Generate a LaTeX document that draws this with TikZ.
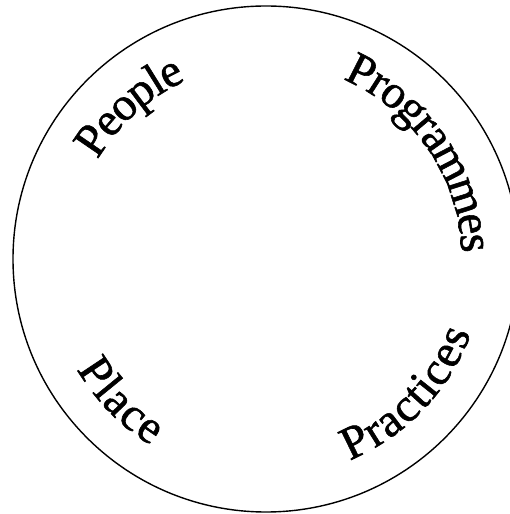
\documentclass[tikz,border=0pt]{standalone}
\usepackage{fontspec}
\setmainfont{Liberation Serif}
\newfontfamily\labfam[FakeBold=1.2]{Liberation Serif}
\usetikzlibrary{decorations.text}
\newcommand\lblfont{\labfam\fontsize{47}{54}\selectfont}
\tikzset{
  ring/.style={draw, circle, line width=1.4pt, minimum size=506pt, inner sep=0pt},
  arclabel/.style={decorate, decoration={text along path, text={|\lblfont|#1}, text align=center, raise=-15pt}}
}
\begin{document}
\begin{tikzpicture}[x=1pt,y=1pt]
\useasboundingbox (0,0) rectangle (510,514);
\coordinate (c) at (266,255);
\node[ring] (circ) at (c) {};
% top labels: clockwise, letters pointing outward
\path[arclabel={People}] (c) ++(171.8:210.5) arc[start angle=171.8, end angle=91.8, radius=210.5];
\path[arclabel={Programmes}] (c) ++(79.25:210.5) arc[start angle=79.25, end angle=-10.75, radius=210.5];
% bottom labels: counterclockwise, letters pointing inward
\path[arclabel={Practices}] (c) ++(-88.75:203) arc[start angle=-88.75, end angle=1.25, radius=203];
\path[arclabel={Place}] (c) ++(184.3:204) arc[start angle=184.3, end angle=264.3, radius=204];
\end{tikzpicture}
\end{document}
